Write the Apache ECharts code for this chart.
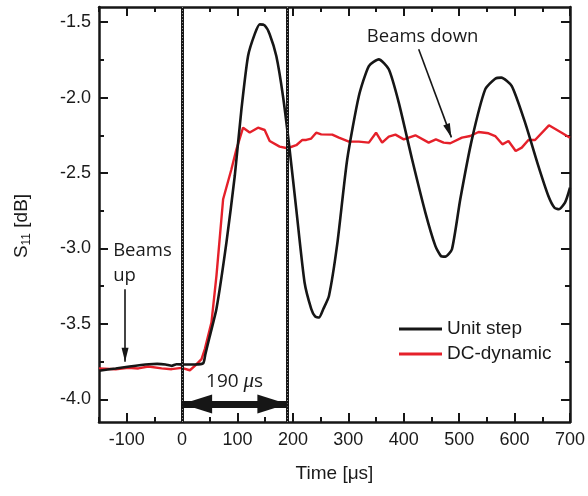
<!DOCTYPE html>
<html>
<head>
<meta charset="utf-8">
<script src="https://cdn.jsdelivr.net/npm/echarts@6/dist/echarts.min.js"></script>
<style>
  html, body { margin: 0; padding: 0; background: #fff; }
  #chart { width: 588px; height: 496px; }
</style>
</head>
<body>
<div id="chart"></div>
<script>
// Unit step response (time in µs, S11 in dB)
const stepTime = [-150, -120, -95, -60, -45, -30, -19, -10, 5, 23, 38, 42, 50, 62, 80, 95, 107, 119, 131, 140, 149, 158, 170, 182, 194, 206, 221, 233, 240, 247, 255, 265, 280, 298, 319, 337, 355, 373, 391, 415, 439, 457, 467, 475, 487, 502, 523, 547, 565, 576, 595, 619, 643, 661, 672, 680, 691, 700];
const stepS11 = [-3.81, -3.795, -3.782, -3.767, -3.765, -3.769, -3.778, -3.767, -3.769, -3.769, -3.761, -3.70, -3.58, -3.40, -2.96, -2.52, -2.08, -1.725, -1.58, -1.515, -1.522, -1.58, -1.725, -1.99, -2.343, -2.74, -3.226, -3.40, -3.45, -3.458, -3.40, -3.315, -2.97, -2.409, -1.99, -1.791, -1.747, -1.813, -2.034, -2.409, -2.762, -2.983, -3.05, -3.054, -3.005, -2.674, -2.277, -1.946, -1.875, -1.868, -1.924, -2.166, -2.454, -2.652, -2.73, -2.74, -2.696, -2.597];

// DC-dynamic response
const dcTime = [-150, -120, -97, -79, -61, -37, -19, -1, 14, 23, 35, 41, 53, 62, 74, 89, 98, 110, 122, 137, 149, 158, 176, 190, 206, 217, 224, 233, 242, 251, 271, 283, 301, 319, 337, 350, 361, 373, 385, 400, 421, 445, 458, 472, 484, 505, 520, 535, 553, 565, 578, 589, 602, 613, 625, 637, 662, 685, 700];
const dcS11 = [-3.795, -3.80, -3.791, -3.795, -3.782, -3.795, -3.80, -3.791, -3.807, -3.778, -3.734, -3.667, -3.49, -3.18, -2.674, -2.475, -2.343, -2.20, -2.232, -2.20, -2.215, -2.288, -2.325, -2.336, -2.316, -2.281, -2.281, -2.272, -2.233, -2.244, -2.246, -2.266, -2.292, -2.292, -2.299, -2.233, -2.299, -2.259, -2.246, -2.277, -2.250, -2.299, -2.277, -2.299, -2.303, -2.266, -2.255, -2.228, -2.237, -2.255, -2.310, -2.288, -2.354, -2.332, -2.281, -2.281, -2.184, -2.233, -2.266];

// Axis ranges and ticks
const xRange = [-150, 700];
const yRange = [-4.15, -1.4];
const xMajorTicks = [-100, 0, 100, 200, 300, 400, 500, 600, 700];
const xMinorTicks = [-150, -50, 50, 150, 250, 350, 450, 550, 650];
const yMajorTicks = [-4.0, -3.5, -3.0, -2.5, -2.0, -1.5];
const yMinorTicks = [-3.75, -3.25, -2.75, -2.25, -1.75];

// Switching window and annotations
const windowEdges = [0, 190];
const windowLabel = '190';
const spanArrowLevel = -4.03;
const spanLabelPos = [94.7, -3.883];
const beamsUpArrow = [[-103, -3.27], [-103, -3.75]];
const beamsUpLabelPos = [-124.5, -3.101];
const beamsDownArrow = [[427, -1.68], [486, -2.264]];
const beamsDownLabelPos = [434, -1.598];

const seriesNames = ['Unit step', 'DC-dynamic'];
const BLACK = '#161616';
const RED = '#e5202a';

const zip = (xs, ys) => xs.map((x, i) => [x, ys[i]]);

const axisFont = { fontFamily: 'Liberation Sans', fontSize: 18, color: '#1a1a1a' };
const lineStyleAxis = { color: BLACK, width: 2.5 };

function xAxisDef(position, ticks, len, withLabels, withLine) {
  return {
    type: 'value', position, min: xRange[0], max: xRange[1],
    axisLine: { show: withLine, onZero: false, lineStyle: lineStyleAxis },
    axisTick: { show: true, inside: true, length: len, customValues: ticks, lineStyle: { color: BLACK, width: 2 } },
    axisLabel: withLabels ? Object.assign({ show: true, margin: 9, customValues: ticks }, axisFont) : { show: false },
    splitLine: { show: false }
  };
}
function yAxisDef(position, ticks, len, withLabels, withLine) {
  return {
    type: 'value', position, min: yRange[0], max: yRange[1],
    axisLine: { show: withLine, onZero: false, lineStyle: lineStyleAxis },
    axisTick: { show: true, inside: true, length: len, customValues: ticks, lineStyle: { color: BLACK, width: 2 } },
    axisLabel: withLabels ? Object.assign({
      show: true, margin: 8, customValues: ticks,
      formatter: v => v.toFixed(1)
    }, axisFont) : { show: false },
    splitLine: { show: false }
  };
}

const xAxes = [
  xAxisDef('bottom', xMajorTicks, 9, true, true),
  xAxisDef('bottom', xMinorTicks, 5, false, false),
  xAxisDef('top', xMajorTicks, 9, false, true),
  xAxisDef('top', xMinorTicks, 5, false, false)
];
Object.assign(xAxes[0], {
  name: 'Time [\u03bcs]', nameLocation: 'middle', nameGap: 42,
  nameTextStyle: { fontFamily: 'Liberation Sans', fontSize: 19, color: '#1a1a1a' }
});

const yAxes = [
  yAxisDef('left', yMajorTicks, 9, true, true),
  yAxisDef('left', yMinorTicks, 5, false, false),
  yAxisDef('right', yMajorTicks, 9, false, true),
  yAxisDef('right', yMinorTicks, 5, false, false)
];
Object.assign(yAxes[0], {
  name: '{s|S}{sub|11}{s| [dB]}', nameLocation: 'middle', nameGap: 66,
  nameTextStyle: {
    padding: [0, 23, 0, 0],
    rich: {
      s: { fontFamily: 'Liberation Sans', fontSize: 19, color: '#1a1a1a', lineHeight: 22 },
      sub: { fontFamily: 'Liberation Sans', fontSize: 12, color: '#1a1a1a', lineHeight: 12, verticalAlign: 'bottom' }
    }
  }
});

const annoFont = 'Open Sans';

const option = {
  animation: false,
  backgroundColor: '#fff',
  grid: { left: 99, top: 7, width: 474, height: 415 },
  xAxis: xAxes,
  yAxis: yAxes,
  legend: {
    orient: 'vertical', left: 394, top: 314,
    data: seriesNames.map(n => ({ name: n })),
    icon: 'rect', itemWidth: 43, itemHeight: 3, itemGap: 5,
    textStyle: { fontFamily: 'Liberation Sans', fontSize: 19, color: '#1a1a1a', lineHeight: 20 },
    selectedMode: false
  },
  series: [
    {
      // vertical window edges, dark body
      type: 'line', data: [], silent: true, z: 1,
      markLine: {
        silent: true, symbol: 'none', animation: false,
        label: { show: false },
        lineStyle: { color: BLACK, width: 3, type: 'solid' },
        data: windowEdges.map(v => ({ xAxis: v }))
      }
    },
    {
      // dotted highlight on the window edges
      type: 'line', data: [], silent: true, z: 1,
      markLine: {
        silent: true, symbol: 'none', animation: false,
        label: { show: false },
        lineStyle: { color: '#ffffff', width: 1, type: [1, 2], opacity: 0.55 },
        data: windowEdges.map(v => ({ xAxis: v }))
      }
    },
    {
      name: seriesNames[1], type: 'line', data: zip(dcTime, dcS11),
      showSymbol: false, symbol: 'none', z: 3,
      lineStyle: { color: RED, width: 2.4 }, itemStyle: { color: RED }
    },
    {
      name: seriesNames[0], type: 'line', data: zip(stepTime, stepS11),
      showSymbol: false, symbol: 'none', smooth: 0.2, z: 4,
      lineStyle: { color: BLACK, width: 2.6 }, itemStyle: { color: BLACK }
    },
    {
      // double arrow spanning the window
      type: 'line', data: [], silent: true, z: 5,
      markLine: {
        silent: true, animation: false,
        symbol: ['triangle', 'triangle'],
        symbolSize: [19, 30],
        symbolOffset: [[0, 15], [0, 15]],
        label: { show: false },
        lineStyle: { color: BLACK, width: 7, type: 'solid', cap: 'butt' },
        data: [[{ coord: [windowEdges[0], spanArrowLevel] }, { coord: [windowEdges[1], spanArrowLevel] }]]
      }
    },
    {
      // pointer arrows for beam events
      type: 'line', data: [], silent: true, z: 5,
      markLine: {
        silent: true, animation: false,
        symbol: ['none', 'triangle'],
        symbolSize: [7, 14],
        symbolOffset: [[0, 0], [0, 7]],
        label: { show: false },
        lineStyle: { color: BLACK, width: 1.6, type: 'solid' },
        data: [
          [{ coord: beamsUpArrow[0] }, { coord: beamsUpArrow[1] }],
          [{ coord: beamsDownArrow[0] }, { coord: beamsDownArrow[1] }]
        ]
      }
    },
    {
      // text annotations
      type: 'line', data: [], silent: true, z: 6,
      markPoint: {
        silent: true, animation: false, symbol: 'circle', symbolSize: 0,
        itemStyle: { color: 'transparent' },
        data: [
          {
            coord: beamsUpLabelPos,
            label: {
              show: true, position: [0, 0], align: 'left', verticalAlign: 'middle',
              formatter: 'Beams\nup', fontFamily: annoFont, fontSize: 18.5, lineHeight: 25, color: '#1a1a1a'
            }
          },
          {
            coord: beamsDownLabelPos,
            label: {
              show: true, position: [0, 0], align: 'center', verticalAlign: 'middle',
              formatter: 'Beams down', fontFamily: annoFont, fontSize: 18.5, color: '#1a1a1a'
            }
          },
          {
            coord: spanLabelPos,
            label: {
              show: true, position: [0, 0], align: 'center', verticalAlign: 'middle',
              formatter: '{n|' + windowLabel + ' }{mu|\u03bc}{n|s}',
              rich: {
                n: { fontFamily: annoFont, fontSize: 19, color: '#1a1a1a' },
                mu: { fontFamily: 'Liberation Serif', fontStyle: 'italic', fontSize: 21, color: '#1a1a1a' }
              }
            }
          }
        ]
      }
    }
  ]
};

const chart = echarts.init(document.getElementById('chart'), null, { renderer: 'canvas' });
chart.setOption(option);
</script>
</body>
</html>
